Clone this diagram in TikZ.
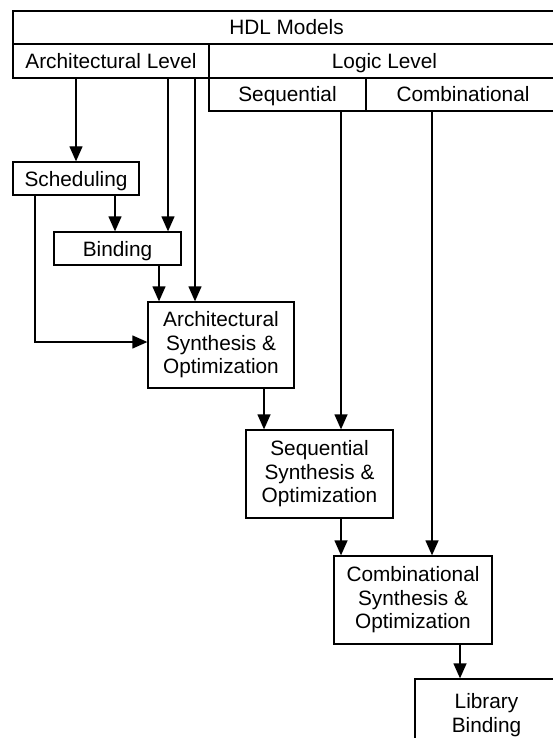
\documentclass[tikz,border=0pt]{standalone}
\usepackage{fontspec}
\setmainfont{Liberation Sans}
\usetikzlibrary{arrows.meta}
\begin{document}
\begin{tikzpicture}[x=1pt,y=-1pt,
  box/.style={draw,line width=1.3pt,rectangle,inner sep=0pt,align=center,
    font=\fontsize{20.8}{23.5}\selectfont},
  one/.style={box,text height=15pt,text depth=0pt},
  arr/.style={line width=1.3pt,-{Triangle[length=15pt,width=13pt]}}]
\useasboundingbox (0,0) rectangle (553,738);
\clip (0,0) rectangle (553,738);
% header table
\node[one,minimum width=547pt,minimum height=33pt] (hdl) at (286.5,27.5) {HDL Models};
\node[one,minimum width=196pt,minimum height=34pt] (archlvl) at (111,61) {Architectural Level};
\node[one,minimum width=351pt,minimum height=34pt] (logic) at (384.5,61) {Logic Level};
\node[one,minimum width=157pt,minimum height=33pt] (seqh) at (287.5,94.5) {Sequential};
\node[one,minimum width=194pt,minimum height=33pt] (combh) at (463,94.5) {Combinational};
% blocks
\node[one,minimum width=126pt,minimum height=33pt] (sched) at (76,178.5) {Scheduling};
\node[one,minimum width=127pt,minimum height=33pt] (bind) at (117.5,248.5) {Binding};
\node[box,minimum width=146pt,minimum height=86pt] (archsyn) at (221,345) {Architectural\\Synthesis \&\\Optimization};
\node[box,minimum width=147pt,minimum height=88pt] (seqsyn) at (319.5,474) {Sequential\\Synthesis \&\\Optimization};
\node[box,minimum width=158pt,minimum height=88pt] (combsyn) at (413,600) {Combinational\\Synthesis \&\\Optimization};
\node[box,minimum width=143pt,minimum height=72pt] (lib) at (486.5,715) {Library\\Binding};
% x positions
\coordinate (xa) at (76,0);
\coordinate (xb) at (168,0);
\coordinate (xc) at (195,0);
\coordinate (xd) at (115,0);
\coordinate (xe) at (159,0);
\coordinate (xf) at (35,0);
\coordinate (xg) at (264,0);
\coordinate (xh) at (341,0);
\coordinate (xi) at (432,0);
\coordinate (xj) at (460,0);
\coordinate (bend) at (35,342);
% connectors
\draw[arr] (xa |- archlvl.south) -- (xa |- sched.north);
\draw[arr] (xb |- archlvl.south) -- (xb |- bind.north);
\draw[arr] (xc |- archlvl.south) -- (xc |- archsyn.north);
\draw[arr] (xd |- sched.south) -- (xd |- bind.north);
\draw[arr] (xe |- bind.south) -- (xe |- archsyn.north);
\draw[arr] (xf |- sched.south) -- (bend) -- (bend -| archsyn.west);
\draw[arr] (xg |- archsyn.south) -- (xg |- seqsyn.north);
\draw[arr] (xh |- seqh.south) -- (xh |- seqsyn.north);
\draw[arr] (xh |- seqsyn.south) -- (xh |- combsyn.north);
\draw[arr] (xi |- combh.south) -- (xi |- combsyn.north);
\draw[arr] (xj |- combsyn.south) -- (xj |- lib.north);
\end{tikzpicture}
\end{document}
